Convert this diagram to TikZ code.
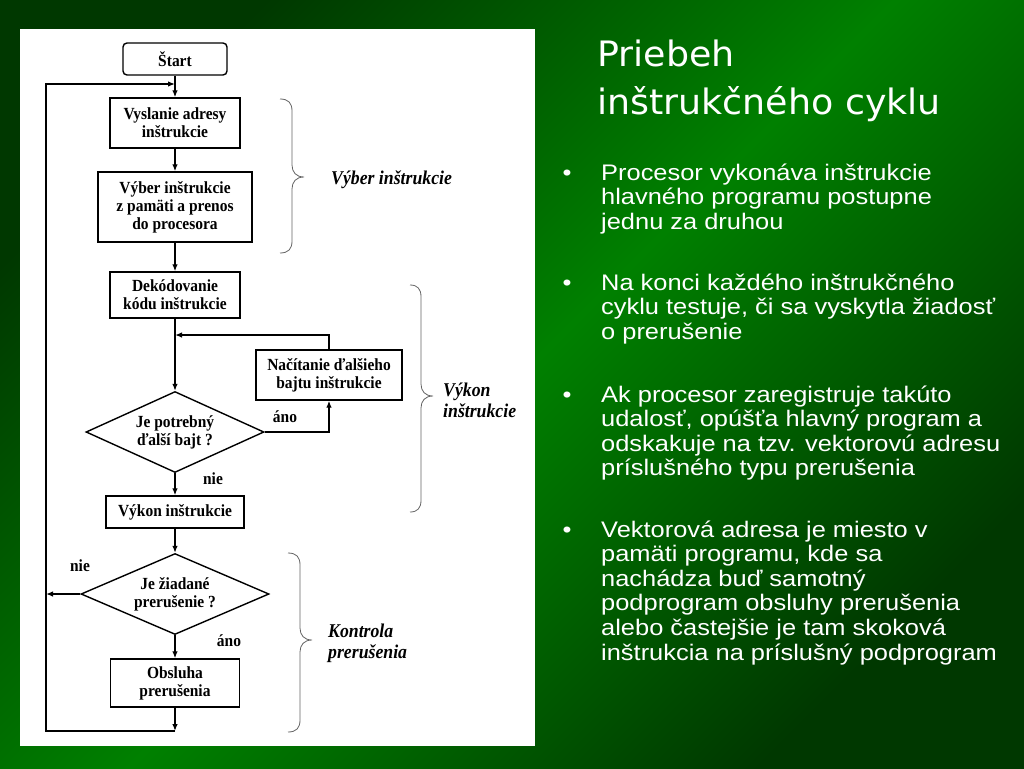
\documentclass[tikz,border=0pt]{standalone}
\usepackage{fontspec}
\usetikzlibrary{shapes.geometric,arrows.meta}
\setmainfont{Liberation Serif}
\newfontfamily\tnr[FakeStretch=0.91]{Liberation Serif}
\newfontfamily\arialf[FakeStretch=1.13]{Liberation Sans}
\newfontfamily\titlef[FakeStretch=1.04]{DejaVu Sans}
\definecolor{bgdark}{RGB}{0,56,0}
\definecolor{bgbright}{RGB}{0,128,0}
\definecolor{bracegray}{RGB}{100,100,100}
\setlength\lineskiplimit{-100pt}
\newcommand\mybrace[6]{%
  \draw[brace] (#1,#4) .. controls ({#1+0.7*(#2-#1)},#4) and (#2,{#4+4}) .. (#2,{#4+12})
    -- (#2,{#5-12}) .. controls (#2,{#5-5}) and ({#2+4},#5) .. (#3,#5)
    .. controls ({#2+4},#5) and (#2,{#5+5}) .. (#2,{#5+12})
    -- (#2,{#6-12}) .. controls (#2,{#6-4}) and ({#1+0.7*(#2-#1)},#6) .. (#1,#6);}
\tikzset{
 box/.style={draw=black, line width=1.4pt, fill=white, inner sep=0pt, align=center,
   font=\tnr\bfseries\fontsize{17}{18}\selectfont},
 dia/.style={box, diamond, aspect=2.2},
 conn/.style={line width=1.3pt, draw=black},
 arr/.style={conn, -{Latex[length=7pt,width=5.5pt]}},
 lbl/.style={font=\tnr\bfseries\fontsize{17}{18}\selectfont, inner sep=0pt},
 grp/.style={font=\tnr\bfseries\itshape\fontsize{19.5}{21}\selectfont, inner sep=0pt, align=left, anchor=west},
 brace/.style={draw=bracegray, line width=0.8pt},
 bul/.style={font=\arialf\fontsize{22.5}{24.6}\selectfont, text=white, inner sep=0pt, anchor=base west},
 dot/.style={font=\arialf\fontsize{22.5}{24.6}\selectfont, text=white, inner sep=0pt, anchor=base},
 ttl/.style={font=\titlef\fontsize{35}{47.6}\selectfont, text=white, inner sep=0pt, anchor=base west},
}
\begin{document}
\begin{tikzpicture}[x=1pt,y=-1pt]
\useasboundingbox (0,0) rectangle (1024,768);
\shade[top color=bgdark, bottom color=bgdark, middle color=bgbright, shading angle=45] (0,0) rectangle (1024,768);
\fill[white] (20,29) rectangle (535,746);

% flowchart nodes
\node[box, rounded corners=4pt, minimum width=104pt, minimum height=32pt] (start) at (175,59) {Štart};
\node[box, minimum width=130pt, minimum height=50pt] (vys) at (175,123) {Vyslanie adresy\\inštrukcie};
\node[box, minimum width=154pt, minimum height=70pt] (vyb) at (175,207) {Výber inštrukcie\\z pamäti a prenos\\do procesora};
\node[box, minimum width=130pt, minimum height=46pt] (dek) at (175,295) {Dekódovanie\\kódu inštrukcie};
\node[box, minimum width=146pt, minimum height=50pt] (nac) at (329,375) {Načítanie ďalšieho\\bajtu inštrukcie};
\node[dia, minimum width=178pt, minimum height=81pt] (d1) at (175,432) {Je potrebný\\ďalší bajt ?};
\node[box, minimum width=138pt, minimum height=32pt] (vyk) at (175,512) {Výkon inštrukcie};
\node[dia, minimum width=188pt, minimum height=81pt] (d2) at (175,594) {Je žiadané\\prerušenie ?};
\node[box, minimum width=129pt, minimum height=48pt] (obs) at (175,683) {Obsluha\\prerušenia};

% helper points
\coordinate (j1) at (175,335);
\coordinate (nacup) at (329,335);
\coordinate (d1r) at (329,432);
\coordinate (lin) at (175,84);
\coordinate (lt) at (46,84);
\coordinate (lb) at (46,731);
\coordinate (bot) at (175,731);
\coordinate (nieend) at (46,594);

% connectors
\draw[arr] (start) -- (vys);
\draw[arr] (vys) -- (vyb);
\draw[arr] (vyb) -- (dek);
\draw[arr] (dek) -- (d1);
\draw[arr] (d1.east) -- (d1r) -- (nac.south);
\draw[arr] (nac.north) -- (nacup) -- (j1);
\draw[arr] (d1) -- (vyk);
\draw[arr] (vyk) -- (d2);
\draw[arr] (d2.west) -- (nieend);
\draw[arr] (d2) -- (obs);
\draw[arr] (obs) -- (bot);
\draw[arr] (bot) -- (lb) -- (lt) -- (lin);

% connector labels
\node[lbl] (ano1) at (285,417) {áno};
\node[lbl] (nie1) at (213,479) {nie};
\node[lbl] (nie2) at (80,566) {nie};
\node[lbl] (ano2) at (229,641) {áno};

% braces and group labels
\mybrace{280}{292}{304}{99}{177}{253}
\mybrace{410}{421}{433}{285}{396}{512}
\mybrace{288}{300}{312}{553}{640}{732}
\node[grp] (g1) at (331,180) {Výber inštrukcie};
\node[grp] (g2) at (443,400) {Výkon\\inštrukcie};
\node[grp] (g3) at (328,643) {Kontrola\\prerušenia};

% title
\node[ttl] (title) at (597,66.7) {\vtop{\hbox{Priebeh}\hbox{inštrukčného cyklu}}};

% bullets
\node[dot] (p1) at (567,180) {•};
\node[bul] (b1) at (601,180) {\vtop{\hbox{Procesor vykonáva inštrukcie}\hbox{hlavného programu postupne}\hbox{jednu za druhou}}};
\node[dot] (p2) at (567,290) {•};
\node[bul] (b2) at (601,290) {\vtop{\hbox{Na konci každého inštrukčného}\hbox{cyklu testuje, či sa vyskytla žiadosť}\hbox{o prerušenie}}};
\node[dot] (p3) at (567,402) {•};
\node[bul] (b3) at (601,402) {\vtop{\hbox{Ak procesor zaregistruje takúto}\hbox{udalosť, opúšťa hlavný program a}\hbox{odskakuje na tzv. vektorovú adresu}\hbox{príslušného typu prerušenia}}};
\node[dot] (p4) at (567,537) {•};
\node[bul] (b4) at (601,537) {\vtop{\hbox{Vektorová adresa je miesto v}\hbox{pamäti programu, kde sa}\hbox{nachádza buď samotný}\hbox{podprogram obsluhy prerušenia}\hbox{alebo častejšie je tam skoková}\hbox{inštrukcia na príslušný podprogram}}};
\end{tikzpicture}
\end{document}
